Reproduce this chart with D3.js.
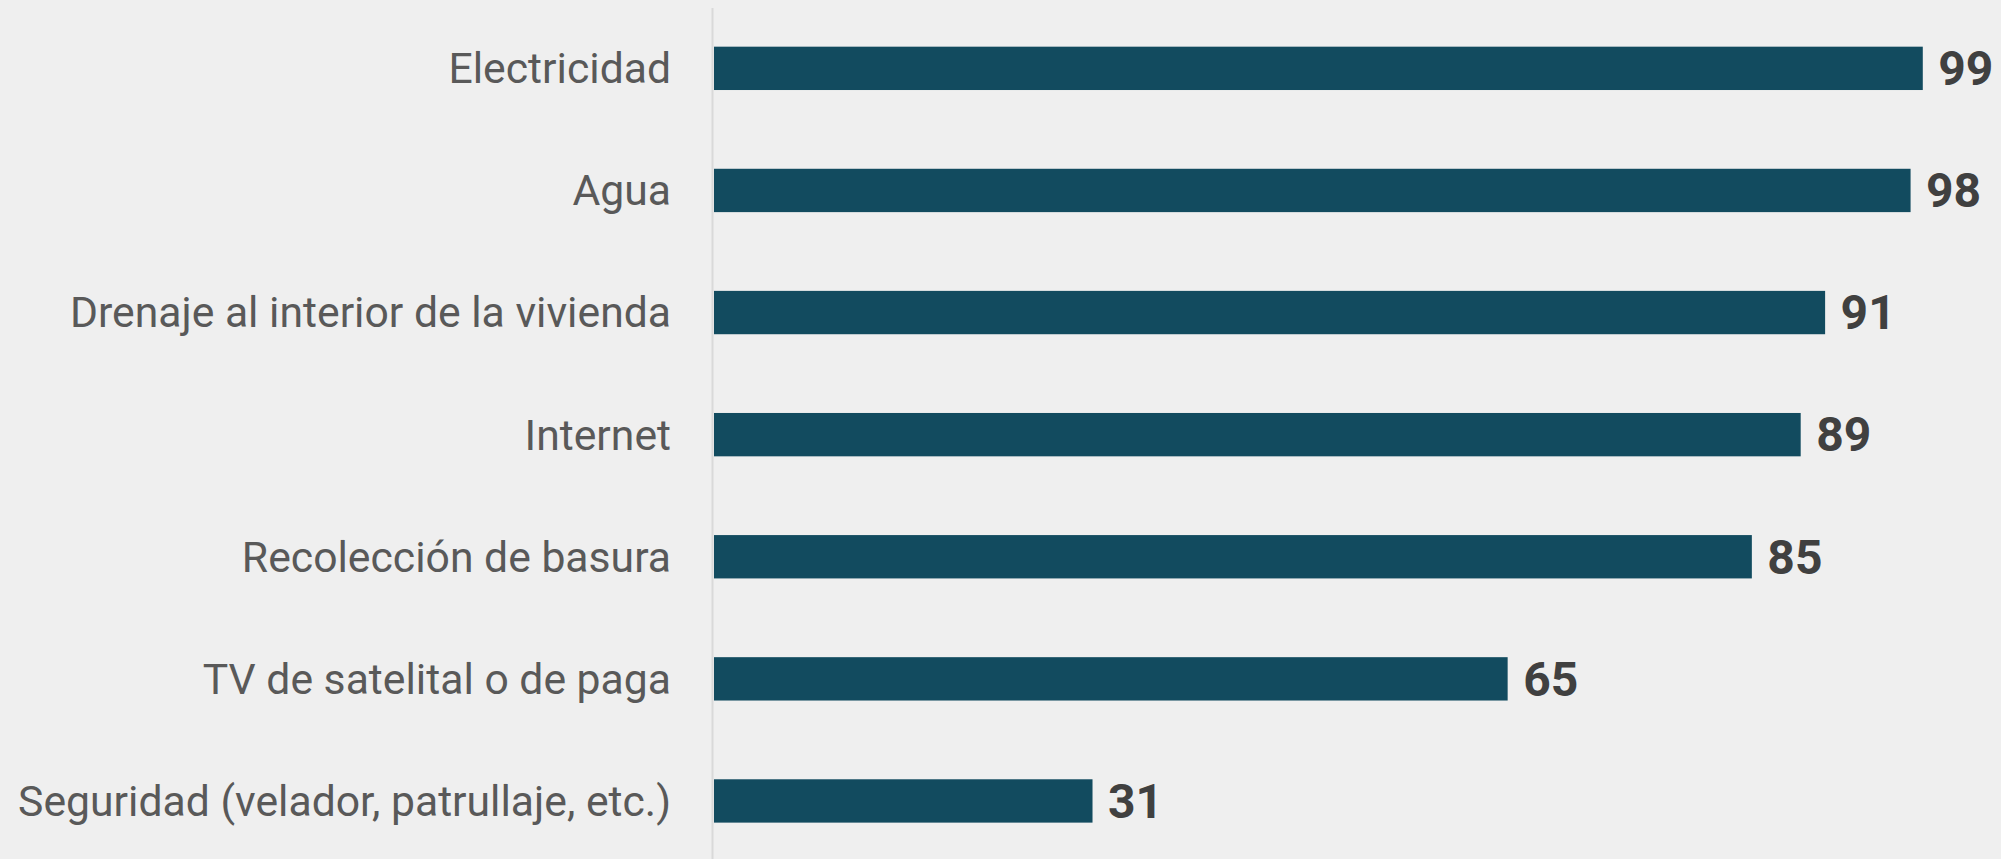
<!DOCTYPE html>
<html>
<head>
<meta charset="utf-8">
<script src="https://cdn.jsdelivr.net/npm/d3@7"></script>
<style>
  html, body { margin: 0; padding: 0; background: #efefef; }
  svg { display: block; }
</style>
</head>
<body>
<svg id="chart" width="2001" height="859"></svg>
<script>
const categories = [
  "Electricidad",
  "Agua",
  "Drenaje al interior de la vivienda",
  "Internet",
  "Recolección de basura",
  "TV de satelital o de paga",
  "Seguridad (velador, patrullaje, etc.)"
];
const values = [99, 98, 91, 89, 85, 65, 31];
const xDomain = [0, 100];

const svg = d3.select("#chart");
const W = 2001, H = 859;
svg.append("rect").attr("width", W).attr("height", H).attr("fill", "#efefef");

const x = d3.scaleLinear().domain(xDomain).range([714, 1935]);
const y = d3.scaleBand().domain(categories).range([7.3, 862]).paddingInner(0.645).paddingOuter(0.3225);

// axis line
svg.append("line")
  .attr("x1", 712.5).attr("x2", 712.5)
  .attr("y1", 8).attr("y2", H)
  .attr("stroke", "#d9d9d9").attr("stroke-width", 2);

// bars
svg.selectAll("rect.bar").data(values).join("rect")
  .attr("class", "bar")
  .attr("x", x(0))
  .attr("y", (d, i) => y(categories[i]))
  .attr("width", d => x(d) - x(0))
  .attr("height", y.bandwidth())
  .attr("fill", "#124b5f");

// category labels
svg.selectAll("text.cat").data(categories).join("text")
  .attr("class", "cat")
  .attr("x", 671)
  .attr("y", d => y(d) + y.bandwidth() / 2)
  .attr("dy", "0.35em")
  .attr("text-anchor", "end")
  .attr("font-family", "Roboto, sans-serif")
  .attr("font-size", 42.7)
  .attr("fill", "#595959")
  .text(d => d);

// value labels
svg.selectAll("text.val").data(values).join("text")
  .attr("class", "val")
  .attr("x", d => x(d) + 15.5)
  .attr("y", (d, i) => y(categories[i]) + y.bandwidth() / 2)
  .attr("dy", "0.35em")
  .attr("font-family", "Roboto, sans-serif")
  .attr("font-weight", "bold")
  .attr("font-size", 48)
  .attr("fill", "#404040")
  .text(d => d);
</script>
</body>
</html>
